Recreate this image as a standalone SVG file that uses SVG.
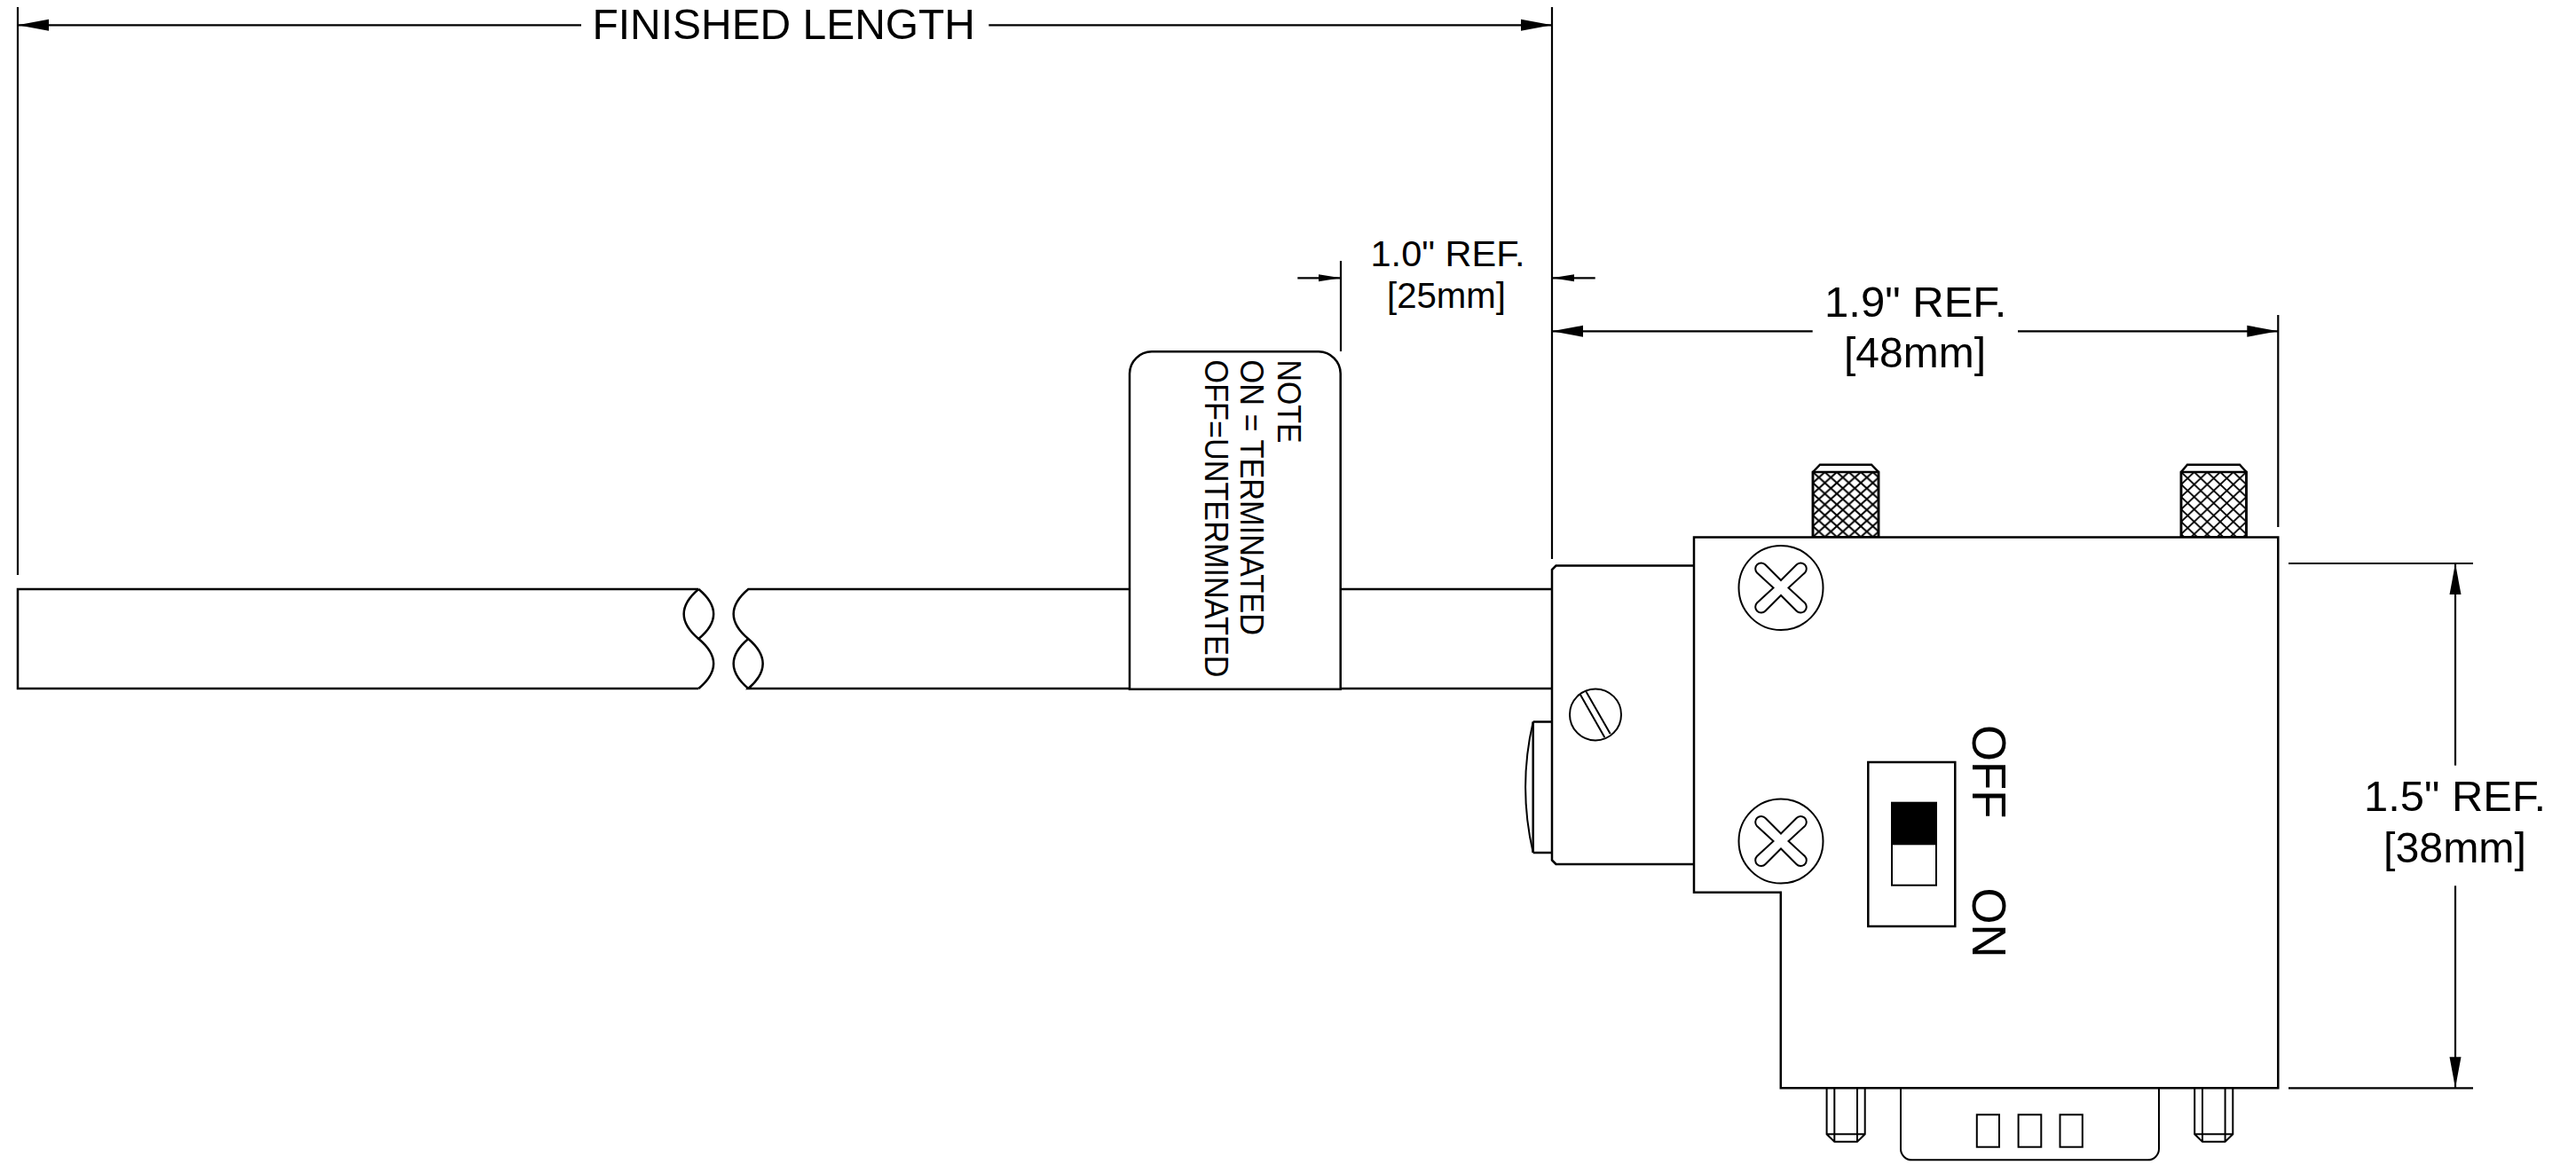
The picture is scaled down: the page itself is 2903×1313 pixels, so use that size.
<svg xmlns="http://www.w3.org/2000/svg" width="2903" height="1313" viewBox="0 0 2903 1313">
<style>
.o{fill:none;stroke:#000;stroke-width:2.5}
.f{fill:#fff;stroke:#000;stroke-width:2.5}
.t{fill:none;stroke:#000;stroke-width:2}
.d{fill:none;stroke:#000;stroke-width:2.2}
text{font-family:"Liberation Sans",Arial,sans-serif;fill:#000}
.xl{font-size:49px}
.l{font-size:40.5px}
.n{font-size:36px}
.s{font-size:54.5px}
</style>
<defs>
<marker id="big" markerUnits="userSpaceOnUse" markerWidth="36" markerHeight="14" refX="35" refY="7" orient="auto"><path d="M0,0.5L35,7L0,13.5Z" fill="#000"/></marker>
<marker id="small" markerUnits="userSpaceOnUse" markerWidth="26" markerHeight="10" refX="25" refY="5" orient="auto"><path d="M0,1L25,5L0,9Z" fill="#000"/></marker>
<pattern id="knurl-a" patternUnits="userSpaceOnUse" width="13.5" height="12.2" x="2043" y="532"><path d="M-1.35,-1.22L14.85,13.42M-1.35,13.42L14.85,-1.22" stroke="#000" stroke-width="2" fill="none"/></pattern>
<pattern id="knurl-b" patternUnits="userSpaceOnUse" width="14.7" height="14" x="2458" y="532"><path d="M-1.47,-1.4L16.17,15.4M-1.47,15.4L16.17,-1.4" stroke="#000" stroke-width="1.9" fill="none"/></pattern>
<path id="cross" d="M0,-8.5L17.5,-26A6.5,6.5 0 0 1 27,-17L8.5,0L27,17A6.5,6.5 0 0 1 17.5,26L0,8.5L-17.5,26A6.5,6.5 0 0 1 -27,17L-8.5,0L-27,-17A6.5,6.5 0 0 1 -17.5,-26Z" class="t"/>
</defs>
<rect width="2903" height="1313" fill="#fff"/>
<g id="cable">
<path class="o" d="M787.3,664H20V776H787.3"/>
<path class="o" d="M787.3,664Q821,692 787.3,720Q821,748 787.3,776"/>
<path class="o" d="M787.3,664Q754,692 787.3,720"/>
<path class="o" d="M1749,664H843.3Q810,692 843.3,720Q876,748 843.3,776H1749"/>
<path class="o" d="M843.3,720Q810,748 843.3,776"/>
</g>
<g id="note-tag">
<path class="f" d="M1273,776.7V421A25,25 0 0 1 1298,396.3H1486A25,25 0 0 1 1510.7,421V776.7Z"/>
<text class="n" transform="translate(1440,405.5) rotate(90)" textLength="94" lengthAdjust="spacingAndGlyphs">NOTE</text>
<text class="n" transform="translate(1398.3,405.5) rotate(90)" textLength="310.5" lengthAdjust="spacingAndGlyphs">ON = TERMINATED</text>
<text class="n" transform="translate(1357.7,405.5) rotate(90)" textLength="358" lengthAdjust="spacingAndGlyphs">OFF=UNTERMINATED</text>
</g>
<g id="backshell">
<path class="o" d="M1727.7,813.6H1749M1727.7,961H1749M1727.7,813.6V961"/>
<path class="t" d="M1727.7,813.6Q1710.5,887 1727.7,961"/>
<path class="f" d="M1909,637.5H1753.5L1749,642V969.5L1753.5,974H1909"/>
<circle class="t" cx="1798" cy="805.4" r="29"/>
<path class="t" d="M1781,782.9L1808.3,831M1787.3,779.3L1814.7,827"/>
</g>
<g id="thumbscrew-left">
<path class="f" d="M2043,532L2051,523.7H2109L2117,532V605.5H2043Z"/>
<rect x="2043" y="532" width="74" height="73.5" fill="url(#knurl-a)" stroke="#000" stroke-width="2.5"/>
</g>
<g id="thumbscrew-right">
<path class="f" d="M2458,532L2465,523.7H2524L2531.5,532V605.5H2458Z"/>
<rect x="2458" y="532" width="73.5" height="73.5" fill="url(#knurl-b)" stroke="#000" stroke-width="2.5"/>
</g>
<g id="standoff-left">
<path class="t" d="M2058.6,1226.3V1278.3L2067.3,1286.7H2093L2101.7,1278.3V1226.3M2067.3,1226.3V1286.7M2093,1226.3V1286.7M2058.6,1278.3H2101.7"/>
</g>
<g id="standoff-right">
<path class="t" d="M2473.2,1226.3V1278.3L2482,1286.7H2507.6L2516.3,1278.3V1226.3M2482,1226.3V1286.7M2507.6,1226.3V1286.7M2473.2,1278.3H2516.3"/>
</g>
<g id="d-shell">
<path class="t" d="M2142,1226.3V1295A12.5,12.5 0 0 0 2154.5,1307.3H2420.5A12.5,12.5 0 0 0 2433,1295V1226.3"/>
<rect class="t" x="2227.8" y="1256.3" width="25.2" height="36.4"/>
<rect class="t" x="2274.6" y="1256.3" width="25.7" height="36.4"/>
<rect class="t" x="2321.5" y="1256.3" width="25.3" height="36.4"/>
</g>
<g id="housing">
<path class="f" d="M1909,605.5H2567.3V1226.3H2006.8V1005.7H1909Z"/>
</g>
<g id="screw-top">
<circle class="t" cx="2007" cy="662.5" r="47.5"/>
<use href="#cross" x="2007" y="662.5"/>
</g>
<g id="screw-bottom">
<circle class="t" cx="2007" cy="948" r="47.5"/>
<use href="#cross" x="2007" y="948"/>
</g>
<g id="switch">
<rect class="o" x="2105.3" y="859" width="98" height="185"/>
<rect class="t" x="2132" y="904.7" width="50" height="93"/>
<rect x="2132" y="904.7" width="50" height="47.6" fill="#000"/>
<text class="s" transform="translate(2222.7,817) rotate(90)" textLength="105.5" lengthAdjust="spacingAndGlyphs">OFF</text>
<text class="s" transform="translate(2222.7,1000.5) rotate(90)" textLength="79" lengthAdjust="spacingAndGlyphs">ON</text>
</g>
<g id="connectors">
<path class="d" d="M20,8V648M1749,8V630M1511,294V396M2567.3,355V594"/>
<path class="d" d="M2579,635H2787M2579,1226.3H2787"/>
<path class="d" d="M655,28.3H20" marker-end="url(#big)"/>
<path class="d" d="M1114.3,28.3H1749" marker-end="url(#big)"/>
<path class="d" d="M1462.3,313.3H1511" marker-end="url(#small)"/>
<path class="d" d="M1797.7,313.3H1749" marker-end="url(#small)"/>
<path class="d" d="M2042.7,373.3H1749" marker-end="url(#big)"/>
<path class="d" d="M2274,373.3H2567.3" marker-end="url(#big)"/>
<path class="d" d="M2767,862.7V635" marker-end="url(#big)"/>
<path class="d" d="M2767,998.3V1226.3" marker-end="url(#big)"/>
</g>
<g id="labels">
<text class="xl" x="667.5" y="44.3" textLength="431.5" lengthAdjust="spacingAndGlyphs">FINISHED LENGTH</text>
<text class="l" x="1544.5" y="300" textLength="174" lengthAdjust="spacingAndGlyphs">1.0" REF.</text>
<text class="l" x="1563" y="346.7" textLength="134" lengthAdjust="spacingAndGlyphs">[25mm]</text>
<text class="xl" x="2056" y="356.7" textLength="205.5" lengthAdjust="spacingAndGlyphs">1.9" REF.</text>
<text class="xl" x="2078" y="414" textLength="160" lengthAdjust="spacingAndGlyphs">[48mm]</text>
<text class="xl" x="2664" y="914" textLength="205" lengthAdjust="spacingAndGlyphs">1.5" REF.</text>
<text class="xl" x="2686" y="971.7" textLength="161" lengthAdjust="spacingAndGlyphs">[38mm]</text>
</g>
</svg>
